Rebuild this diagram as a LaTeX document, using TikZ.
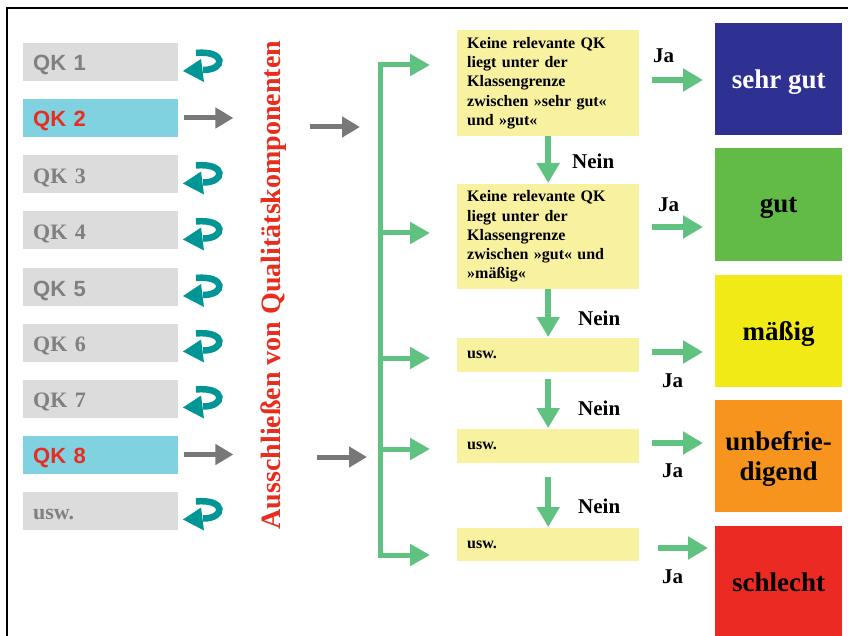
\documentclass[tikz,border=0pt]{standalone}
\usepackage{fontspec}
\setmainfont{Liberation Serif}
\newfontfamily\arialf{Liberation Sans}
\usetikzlibrary{arrows.meta}
\definecolor{qkgray}{RGB}{220,220,220}
\definecolor{qkcyan}{RGB}{128,210,224}
\definecolor{qktext}{RGB}{128,128,128}
\definecolor{redtext}{RGB}{232,45,30}
\definecolor{tealc}{RGB}{0,150,150}
\definecolor{arrgray}{RGB}{120,120,120}
\definecolor{grn}{RGB}{96,194,128}
\definecolor{pyellow}{RGB}{248,242,160}
\definecolor{cA}{RGB}{46,49,146}
\definecolor{cB}{RGB}{98,187,70}
\definecolor{cC}{RGB}{242,234,22}
\definecolor{cD}{RGB}{247,148,29}
\definecolor{cE}{RGB}{236,42,36}
\tikzset{
  qkbox/.style={anchor=west, fill=qkgray, minimum width=155pt, minimum height=38pt,
    inner xsep=10pt, inner ysep=0pt, text width=135pt, align=left, text=qktext,
    text height=18pt, text depth=0pt,
    font=\fontsize{22}{26}\selectfont\bfseries},
  sansqk/.style={font=\arialf\fontsize{22}{26}\selectfont\bfseries},
  qkon/.style={fill=qkcyan, text=redtext},
  ybox/.style={anchor=north west, fill=pyellow, minimum width=182pt, text width=162pt,
    inner xsep=10pt, inner ysep=0pt, align=left, font=\fontsize{16}{19.25}\selectfont\bfseries},
  rbox/.style={anchor=north west, minimum width=127pt, minimum height=112pt, inner sep=0pt,
    align=center, text depth=0pt, font=\fontsize{27}{30}\selectfont\bfseries},
  lbl/.style={anchor=base west, inner sep=0pt, font=\fontsize{21}{24}\selectfont\bfseries},
  garrow/.style={draw=grn, line width=5pt, -{Triangle[length=20pt,width=21pt]}},
  darrow/.style={draw=grn, line width=6pt, -{Triangle[length=20pt,width=22pt]}},
  gyarrow/.style={draw=arrgray, line width=5pt, -{Triangle[length=18pt,width=20pt]}},
  curl/.pic={
    \draw[tealc, line width=6.5pt] (-4,-9) .. controls (26,-12) and (26,8) .. (3,8);
    \fill[tealc] (-17,9) -- (1,-3) -- (4,20) -- cycle;
  }
}
\begin{document}
\begin{tikzpicture}[x=1pt,y=-1pt]
\useasboundingbox (0,0) rectangle (848,636);
\fill[white] (0,0) rectangle (848,636);
\draw[line width=1.5pt] (7,636) -- (7,8) -- (848,8);

% QK boxes
\node[qkbox,sansqk] (q1) at (23,62) {QK 1};
\node[qkbox,sansqk,qkon] (q2) at (23,118) {QK 2};
\node[qkbox] (q3) at (23,174.5) {QK 3};
\node[qkbox] (q4) at (23,230.5) {QK 4};
\node[qkbox,sansqk] (q5) at (23,287) {QK 5};
\node[qkbox] (q6) at (23,342.5) {QK 6};
\node[qkbox] (q7) at (23,398.5) {QK 7};
\node[qkbox,sansqk,qkon] (q8) at (23,454.5) {QK 8};
\node[qkbox] (q9) at (23,510.5) {usw.};

\foreach \cy in {62,174.5,230.5,287,342.5,398.5,510.5}
  \pic at (200,\cy) {curl};

\draw[gyarrow] ([xshift=6pt]q2.east) -- ([xshift=55pt]q2.east);
\draw[gyarrow] ([xshift=6pt]q8.east) -- ([xshift=55pt]q8.east);

\node[rotate=90, text=redtext, inner sep=0pt, font=\fontsize{28}{30}\selectfont\bfseries] (vt) at (274,285)
  {Ausschließen von Qualitätskomponenten};

% second gray arrows
\coordinate (ga1) at (310,127); \coordinate (gb1) at (360,127);
\coordinate (ga2) at (317,457); \coordinate (gb2) at (367,457);
\draw[gyarrow] (ga1) -- (gb1);
\draw[gyarrow] (ga2) -- (gb2);

% green trunk
\coordinate (tT) at (380,65);
\coordinate (tB) at (380,555);
\draw[grn, line width=5pt, line cap=rect] (tT) -- (tB);
\foreach \i/\yy in {1/65,2/233,3/358,4/449,5/555}{
  \coordinate (bs\i) at (380,\yy);
  \coordinate (be\i) at (430,\yy);
  \draw[garrow] (bs\i) -- (be\i);
}

% yellow boxes
\node[ybox, minimum height=106pt] (y1) at (457,30)
  {Keine relevante QK\\liegt unter der\\Klassengrenze\\zwischen »sehr gut«\\und »gut«};
\node[ybox, minimum height=105pt] (y2) at (457,184)
  {Keine relevante QK\\liegt unter der\\Klassengrenze\\zwischen »gut« und\\»mäßig«};
\node[ybox, minimum height=34pt] (y3) at (457,338) {usw.};
\node[ybox, minimum height=34pt] (y4) at (457,429) {usw.};
\node[ybox, minimum height=33pt] (y5) at (457,528) {usw.};

% down arrows
\draw[darrow] (y1.south) -- ([yshift=1pt]y2.north);
\draw[darrow] (y2.south) -- ([yshift=1pt]y3.north);
\draw[darrow] ([yshift=-7pt]y3.south) -- ([yshift=1pt]y4.north);
\draw[darrow] ([yshift=-14pt]y4.south) -- ([yshift=1pt]y5.north);

\node[lbl] (n1) at (572,169) {Nein};
\node[lbl] (n2) at (578,325) {Nein};
\node[lbl] (n3) at (578,415) {Nein};
\node[lbl] (n4) at (578,513) {Nein};

% results
\node[rbox, fill=cA, text=white] (r1) at (715,23) {sehr gut};
\node[rbox, fill=cB, minimum height=113pt] (r2) at (715,148) {gut};
\node[rbox, fill=cC] (r3) at (715,275) {mäßig};
\node[rbox, fill=cD] (r4) at (715,400) {unbefrie-\\digend};
\node[rbox, fill=cE] (r5) at (715,526) {schlecht};

% Ja arrows
\coordinate (ja1) at (652,80);  \coordinate (jb1) at (703,80);
\coordinate (ja2) at (652,227); \coordinate (jb2) at (703,227);
\coordinate (ja3) at (652,352); \coordinate (jb3) at (703,352);
\coordinate (ja4) at (652,443); \coordinate (jb4) at (703,443);
\coordinate (ja5) at (658,548); \coordinate (jb5) at (708,548);
\foreach \i in {1,...,5} \draw[darrow] (ja\i) -- (jb\i);

\node[lbl] (l1) at (653,63) {Ja};
\node[lbl] (l2) at (658,212) {Ja};
\node[lbl] (l3) at (662,387) {Ja};
\node[lbl] (l4) at (662,477) {Ja};
\node[lbl] (l5) at (662,583) {Ja};
\end{tikzpicture}
\end{document}
